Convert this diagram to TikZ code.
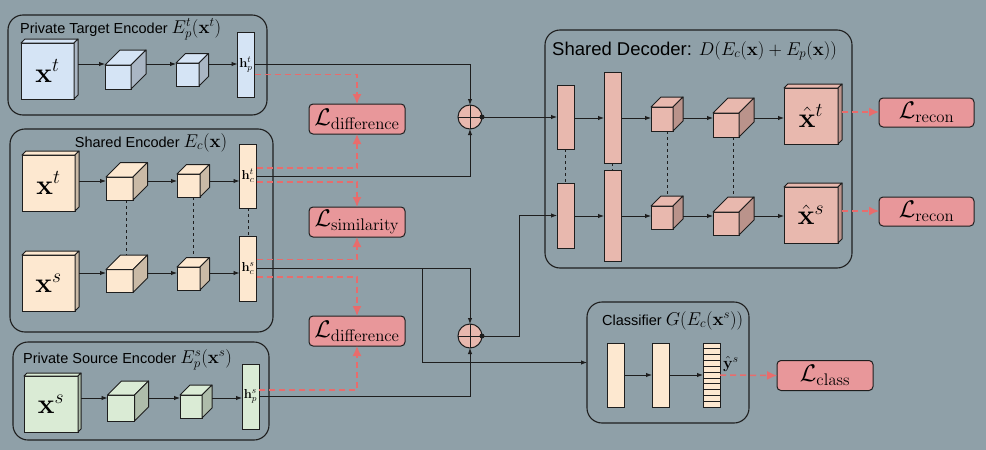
\RequirePackage{fix-cm}
\documentclass[tikz,border=0pt]{standalone}
\usepackage[no-math]{fontspec}
\newfontfamily\sansfont{Liberation Sans}
\usetikzlibrary{arrows.meta, positioning, calc}

\definecolor{bgc}{RGB}{143,160,168}
\definecolor{tgt}{RGB}{213,228,245}
\definecolor{shr}{RGB}{253,232,208}
\definecolor{src}{RGB}{218,235,213}
\definecolor{dec}{RGB}{232,184,174}
\definecolor{lossc}{RGB}{232,151,154}
\definecolor{lossline}{RGB}{232,108,108}
\definecolor{ink}{RGB}{30,30,30}

\tikzstyle{group} = [rectangle, draw=ink, line width=1.1pt, rounded corners=15pt, inner sep=0pt, outer sep=0pt]
\tikzstyle{title} = [inner sep=0pt, font=\sansfont\fontsize{14.5}{17}\selectfont]
\tikzstyle{face} = [rectangle, draw=ink, line width=1pt, inner sep=0pt, outer sep=0pt, font=\fontsize{28}{30}\selectfont]
\tikzstyle{bar} = [rectangle, draw=ink, line width=1pt, inner sep=0pt, outer sep=0pt, minimum width=17pt, font=\fontsize{13}{15}\selectfont]
\tikzstyle{loss} = [rectangle, rounded corners=4pt, draw=ink, line width=1pt, fill=lossc, minimum width=96pt, minimum height=30pt, inner sep=0pt, outer sep=0pt, font=\fontsize{24}{26}\selectfont]
\tikzstyle{sum} = [circle, draw=ink, line width=1pt, fill=dec, minimum size=24pt, inner sep=0pt, outer sep=0pt]
\tikzstyle{arrow} = [draw=ink, line width=0.9pt, -{Latex[length=6pt,width=4.5pt]}]
\tikzstyle{wire} = [draw=ink, line width=0.9pt]
\tikzstyle{lossarrow} = [draw=lossline, line width=1.5pt, dash pattern=on 6pt off 4pt, -{Latex[length=10pt,width=9pt]}]
\tikzstyle{tie} = [draw=ink, line width=0.8pt, dash pattern=on 3pt off 3pt]

\newcommand{\mathsz}{\fontsize{18.5}{20}\selectfont}
% name, front centre, width, height, depth, colour, label
\newcommand{\blockcube}[7]{%
  \node[face, fill=#6, minimum width=#3pt, minimum height=#4pt] (#1) at (#2) {#7};
  \node[inner sep=0pt, outer sep=0pt, minimum width=#3pt, minimum height=#4pt] (#1b) at ([shift={(#5,-#5)}]#1.center) {};
  \draw[line width=1pt, draw=ink, fill=#6, line join=round] (#1.north west) -- (#1b.north west) -- (#1b.north east) -- (#1.north east) -- cycle;
  \draw[line width=1pt, draw=ink, fill=#6!80!black, line join=round] (#1.north east) -- (#1b.north east) -- (#1b.south east) -- (#1.south east) -- cycle;
}

\begin{document}
\begin{tikzpicture}[x=1pt, y=-1pt]

\useasboundingbox (0,0) rectangle (986,450);
\fill[bgc] (0,0) rectangle (986,450);

% Groups
\node[group, minimum width=259pt, minimum height=100pt] (tgtbox) at (137.5,65) {};
\node[group, minimum width=263pt, minimum height=203pt] (shrbox) at (141.5,230.5) {};
\node[group, minimum width=256pt, minimum height=98pt] (srcbox) at (141,391) {};
\node[group, minimum width=307pt, minimum height=238pt] (decbox) at (698.5,149) {};
\node[group, minimum width=162pt, minimum height=121pt] (clsbox) at (668,362.5) {};

\node[title, anchor=base west] (tgttitle) at (20,33) {Private Target Encoder {\mathsz$E_p^t(\mathbf{x}^t)$}};
\node[title, anchor=base] (shrtitle) at (151,147) {Shared Encoder {\mathsz$E_c(\mathbf{x})$}};
\node[title, anchor=base west] (srctitle) at (23,363) {Private Source Encoder {\mathsz$E_p^s(\mathbf{x}^s)$}};
\node[title, anchor=base west, font=\sansfont\fontsize{18.5}{20}\selectfont] (dectitle) at (552,55) {Shared Decoder: {\mathsz$D(E_c(\mathbf{x})+E_p(\mathbf{x}))$}};
\node[title, anchor=base west] (clstitle) at (602,325) {Classifier {\mathsz$G(E_c(\mathbf{x}^s))$}};

% Rows
\coordinate (rowt) at (0,64);
\coordinate (rowsa) at (0,181);
\coordinate (rowsb) at (0,273);
\coordinate (rowp) at (0,398);
\coordinate (rowda) at (0,118);
\coordinate (rowdb) at (0,216);

% Private target encoder
\blockcube{xt}{47.5,71}{53}{56}{4}{tgt}{$\mathbf{x}^t$}
\blockcube{tc1}{118,77}{26}{24}{15}{tgt}{}
\blockcube{tc2}{187.5,74.5}{23}{23}{9.5}{tgt}{}
\node[bar, fill=tgt, minimum height=65pt] (hpt) at (246,64.5) {$\mathbf{h}_p^t$};

% Shared encoder
\blockcube{sxt}{48.5,183}{53}{56}{4}{shr}{$\mathbf{x}^t$}
\blockcube{sc1}{119.5,188.5}{27}{23}{14.5}{shr}{}
\blockcube{sc2}{188.5,185.5}{23}{23}{9.5}{shr}{}
\node[bar, fill=shr, minimum height=64pt] (hct) at (248,176) {$\mathbf{h}_c^t$};
\blockcube{sxs}{48.5,283}{53}{56}{4}{shr}{$\mathbf{x}^s$}
\blockcube{sc3}{119.5,281}{27}{23}{14.5}{shr}{}
\blockcube{sc4}{188.5,278.5}{23}{23}{9.5}{shr}{}
\node[bar, fill=shr, minimum height=65pt] (hcs) at (248,268.5) {$\mathbf{h}_c^s$};

% Private source encoder
\blockcube{xs}{51,404}{54}{56}{3}{src}{$\mathbf{x}^s$}
\blockcube{pc1}{121,408}{27}{26}{14}{src}{}
\blockcube{pc2}{191,406.5}{22}{23}{10}{src}{}
\node[bar, fill=src, minimum height=65pt] (hps) at (250.5,396.5) {$\mathbf{h}_p^s$};

% Losses and sums
\node[loss] (dif1) at (357,119) {$\mathcal{L}_{\mathrm{difference}}$};
\node[loss] (sim) at (357,222) {$\mathcal{L}_{\mathrm{similarity}}$};
\node[loss] (dif2) at (357,331) {$\mathcal{L}_{\mathrm{difference}}$};
\node[sum] (s1) at (470,117) {};
\node[sum] (s2) at (470,336) {};
\draw[wire] (s1.north) -- (s1.south) (s1.west) -- (s1.east);
\draw[wire] (s2.north) -- (s2.south) (s2.west) -- (s2.east);

% Shared decoder
\node[bar, fill=dec, minimum height=64pt] (dt1) at (565.5,117) {};
\node[bar, fill=dec, minimum height=91pt] (dt2) at (612.5,117.5) {};
\blockcube{dt3}{662,119}{22}{24}{10}{dec}{}
\blockcube{dt4}{726,125}{26}{24}{15}{dec}{}
\blockcube{xht}{811,116}{54}{56}{4}{dec}{$\hat{\mathbf{x}}^t$}
\node[bar, fill=dec, minimum height=65pt] (db1) at (565.5,215.5) {};
\node[bar, fill=dec, minimum height=91pt] (db2) at (612.5,215.5) {};
\blockcube{db3}{662,217.5}{22}{23}{10}{dec}{}
\blockcube{db4}{726,223.5}{26}{23}{15}{dec}{}
\blockcube{xhs}{811,215}{54}{56}{4}{dec}{$\hat{\mathbf{x}}^s$}
\node[loss, minimum width=95pt, minimum height=29pt] (rec1) at (926.5,112.5) {$\mathcal{L}_{\mathrm{recon}}$};
\node[loss, minimum width=95pt, minimum height=29pt] (rec2) at (926.5,211.5) {$\mathcal{L}_{\mathrm{recon}}$};

% Classifier
\node[bar, fill=shr, minimum height=64pt] (k1) at (615.5,375) {};
\node[bar, fill=shr, minimum height=64pt] (k2) at (660.5,375) {};
\node[bar, fill=shr, minimum height=64pt] (k3) at (711.5,375) {};
\foreach \k in {1,...,10}
  \draw[line width=0.8pt, draw=ink] ($(k3.north west)!\k/11!(k3.south west)$) -- ($(k3.north east)!\k/11!(k3.south east)$);
\node[anchor=base west, inner sep=0pt, font=\fontsize{16}{18}\selectfont] (yhat) at ([xshift=3pt,yshift=7pt]k3.east) {$\hat{\mathbf{y}}^s$};
\node[loss] (lcls) at (825,375.5) {$\mathcal{L}_{\mathrm{class}}$};

% Arrows (encoders)
\draw[arrow] (xtb.east |- rowt) -- (tc1.west |- rowt);
\draw[arrow] (tc1b.east |- rowt) -- (tc2.west |- rowt);
\draw[arrow] (tc2b.east |- rowt) -- (hpt.west |- rowt);
\draw[arrow] (sxtb.east |- rowsa) -- (sc1.west |- rowsa);
\draw[arrow] (sc1b.east |- rowsa) -- (sc2.west |- rowsa);
\draw[arrow] (sc2b.east |- rowsa) -- (hct.west |- rowsa);
\draw[arrow] (sxsb.east |- rowsb) -- (sc3.west |- rowsb);
\draw[arrow] (sc3b.east |- rowsb) -- (sc4.west |- rowsb);
\draw[arrow] (sc4b.east |- rowsb) -- (hcs.west |- rowsb);
\draw[arrow] (xsb.east |- rowp) -- (pc1.west |- rowp);
\draw[arrow] (pc1b.east |- rowp) -- (pc2.west |- rowp);
\draw[arrow] (pc2b.east |- rowp) -- (hps.west |- rowp);
\draw[tie] ([xshift=7.25pt]sc1.south) -- ([xshift=-7.25pt]sc3b.north);
\draw[tie] ([xshift=4.75pt]sc2.south) -- ([xshift=-4.75pt]sc4b.north);
\draw[tie] (hct.south) -- (hcs.north);

% Arrows (codes to sums and losses)
\draw[arrow] (hpt.east) -| (s1.north);
\draw[arrow] (hct.east) -| (s1.south);
\draw[arrow] (hcs.east) -| (s2.north);
\draw[arrow] (hps.east) -| (s2.south);
\draw[lossarrow] ([yshift=-10pt]hpt.east) -| (dif1.north);
\draw[lossarrow] ([yshift=8pt]hct.east) -| (dif1.south);
\draw[lossarrow] ([yshift=-6pt]hct.east) -| (sim.north);
\draw[lossarrow] ([yshift=9pt]hcs.east) -| (sim.south);
\draw[lossarrow] ([yshift=-8.5pt]hcs.east) -| (dif2.north);
\draw[lossarrow] ([yshift=6.5pt]hps.east) -| (dif2.south);
\coordinate (split) at (422,268.5);
\draw[arrow] (split) |- (clsbox.west);

% Arrows (sums to decoder)
\draw[arrow] (s1.east) -- (dt1.west);
\draw[arrow] (s2.east) -- ++(37,0) |- (db1.west);
\fill[ink] (s1.east) circle (2.5pt);
\fill[ink] (s2.east) circle (2.5pt);

% Arrows (decoder)
\draw[arrow] (dt1.east |- rowda) -- (dt2.west |- rowda);
\draw[arrow] (dt2.east |- rowda) -- (dt3.west |- rowda);
\draw[arrow] (dt3b.east |- rowda) -- (dt4.west |- rowda);
\draw[arrow] (dt4b.east |- rowda) -- (xht.west |- rowda);
\draw[arrow] (db1.east |- rowdb) -- (db2.west |- rowdb);
\draw[arrow] (db2.east |- rowdb) -- (db3.west |- rowdb);
\draw[arrow] (db3b.east |- rowdb) -- (db4.west |- rowdb);
\draw[arrow] (db4b.east |- rowdb) -- (xhs.west |- rowdb);
\draw[tie] (dt1.south) -- (db1.north);
\draw[tie] (dt2.south) -- (db2.north);
\draw[tie] ([xshift=5pt]dt3.south) -- ([xshift=-5pt]db3b.north);
\draw[tie] ([xshift=7.5pt]dt4.south) -- ([xshift=-7.5pt]db4b.north);
\draw[lossarrow] (xhtb.east) -- (rec1.west |- xhtb.east);
\draw[lossarrow] (xhsb.east) -- (rec2.west |- xhsb.east);

% Arrows (classifier)
\draw[arrow] (k1.east) -- (k2.west);
\draw[arrow] (k2.east) -- (k3.west);
\draw[lossarrow] (k3.east) -- (lcls.west);

\end{tikzpicture}
\end{document}
